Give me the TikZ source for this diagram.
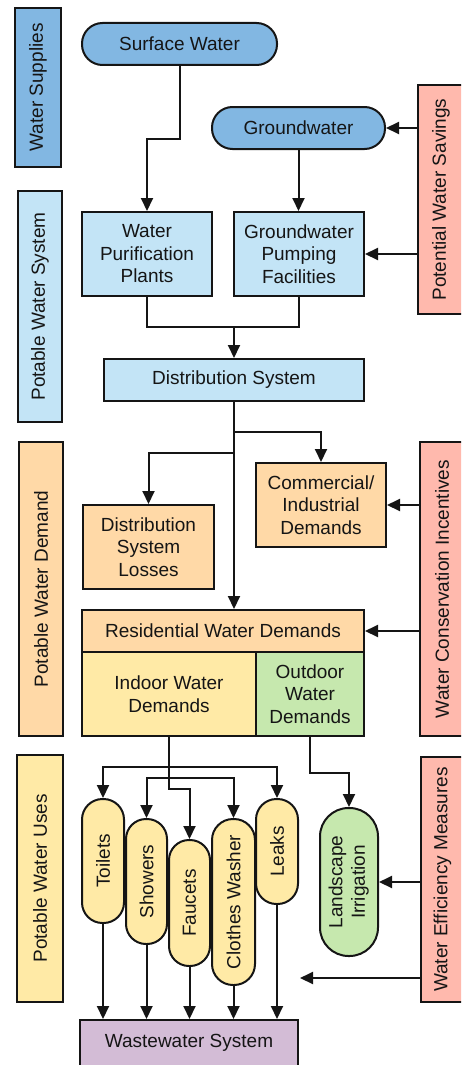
\documentclass[tikz,border=0pt]{standalone}
\usepackage{fontspec}
\setmainfont{Liberation Sans}
\usetikzlibrary{arrows.meta}

\definecolor{supplyblue}{HTML}{82B7E2}
\definecolor{systemblue}{HTML}{C3E4F6}
\definecolor{demandpeach}{HTML}{FFD9A7}
\definecolor{useyellow}{HTML}{FFEAA6}
\definecolor{outdoorgreen}{HTML}{C6E8AE}
\definecolor{policysalmon}{HTML}{FFB9AD}
\definecolor{wastelilac}{HTML}{D3BCD6}
\definecolor{inkline}{HTML}{151515}

\begin{document}
\begin{tikzpicture}[x=1pt,y=-1pt,
  every node/.style={font=\fontsize{19}{22.5}\selectfont, inner sep=0pt, align=center, text=inkline},
  box/.style={draw=inkline, line width=2pt, rectangle},
  pill/.style={box, rounded corners=#1},
  wire/.style={draw=inkline, line width=2pt},
  arr/.style={wire, -{Triangle[length=13pt,width=12pt]}},
]
\useasboundingbox (0,0) rectangle (461,1065);
\clip (0,0) rectangle (461,1065);

% stage labels on the left
\node[box, fill=supplyblue,  minimum width=46pt, minimum height=159pt] (lblsupply) at (38,87.5)  {\rotatebox{90}{Water Supplies}};
\node[box, fill=systemblue,  minimum width=44pt, minimum height=231pt] (lblsystem) at (40,306.5) {\rotatebox{90}{Potable Water System}};
\node[box, fill=demandpeach, minimum width=44pt, minimum height=294pt] (lbldemand) at (41,589)   {\rotatebox{90}{Potable Water Demand}};
\node[box, fill=useyellow,   minimum width=46pt, minimum height=247pt] (lbluses)   at (40,878.5) {\rotatebox{90}{Potable Water Uses}};

% policy levers on the right
\node[box, fill=policysalmon, minimum width=46pt, minimum height=229pt] (savings)    at (441,199.5) {\rotatebox{90}{Potential Water Savings}};
\node[box, fill=policysalmon, minimum width=44pt, minimum height=294pt] (incentives) at (442,589)   {\rotatebox{90}{Water Conservation Incentives}};
\node[box, fill=policysalmon, minimum width=43pt, minimum height=245pt] (efficiency) at (442.5,879.5) {\rotatebox{90}{Water Efficiency Measures}};

% supplies
\node[pill=20.5pt, fill=supplyblue, minimum width=195pt, minimum height=42pt] (surface) at (179.5,44) {Surface Water};
\node[pill=20.5pt, fill=supplyblue, minimum width=173pt, minimum height=42pt] (ground)  at (298.5,128) {Groundwater};

% potable system
\node[box, fill=systemblue, minimum width=130pt, minimum height=84pt] (purify) at (147,254) {Water\\Purification\\Plants};
\node[box, fill=systemblue, minimum width=130pt, minimum height=84pt] (pumps)  at (299,254) {Groundwater\\Pumping\\Facilities};
\node[box, fill=systemblue, minimum width=260pt, minimum height=42pt] (distrib) at (234,380) {Distribution System};

% demands
\node[box, fill=demandpeach, minimum width=130pt, minimum height=84pt] (commercial) at (321,505) {Commercial/\\Industrial\\Demands};
\node[box, fill=demandpeach, minimum width=131pt, minimum height=84pt] (losses) at (148.5,547) {Distribution\\System\\Losses};
\node[box, fill=demandpeach, minimum width=282pt, minimum height=42pt] (resid) at (223,631) {Residential Water Demands};
\node[box, fill=useyellow, minimum width=174pt, minimum height=84pt] (indoor) at (169,694) {Indoor Water\\Demands};
\node[box, fill=outdoorgreen, minimum width=108pt, minimum height=84pt] (outdoor) at (310,694) {Outdoor\\Water\\Demands};

% end uses
\node[pill=20.5pt, fill=useyellow, minimum width=42pt, minimum height=124pt] (toilets) at (103,861)   {\rotatebox{90}{Toilets}};
\node[pill=20pt,   fill=useyellow, minimum width=41pt, minimum height=125pt] (showers) at (146.5,881.5) {\rotatebox{90}{Showers}};
\node[pill=20pt,   fill=useyellow, minimum width=41pt, minimum height=126pt] (faucets) at (189.5,903) {\rotatebox{90}{Faucets}};
\node[pill=21pt,   fill=useyellow, minimum width=43pt, minimum height=166pt] (washer)  at (233.5,902) {\rotatebox{90}{Clothes Washer}};
\node[pill=20.5pt, fill=useyellow, minimum width=42pt, minimum height=105pt] (leaks)   at (277,851.5) {\rotatebox{90}{Leaks}};
\node[pill=28.5pt, fill=outdoorgreen, minimum width=58pt, minimum height=148pt] (irrig) at (349,882)
  {\rotatebox{90}{\begin{tabular}{@{}c@{}}Landscape\\Irrigation\end{tabular}}};

\node[box, fill=wastelilac, minimum width=218pt, minimum height=46pt] (waste) at (189,1043) {Wastewater System};

% junction points of the piping
\coordinate (merge)  at (234,327);
\coordinate (tocom)  at (234,432);
\coordinate (toloss) at (234,453);
\coordinate (outer)  at (169,767);
\coordinate (inner)  at (169,778);
\coordinate (sink)   at (300,978);

% supplies into the system
\draw[arr] (surface.south) -- ++(0,73) -| (purify.north);
\draw[arr] (ground.south) -- (ground.south |- pumps.north);
\draw[arr] (savings.west |- ground.east) -- (ground.east);
\draw[arr] (savings.west |- pumps.east) -- (pumps.east);
\draw[wire] (purify.south) |- (merge) -| (pumps.south);
\draw[arr] (merge) -- (distrib.north);

% distribution to demands
\draw[arr] (distrib.south) -- (distrib.south |- resid.north);
\draw[arr] (tocom) -| (commercial.north);
\draw[arr] (toloss) -| (losses.north);
\draw[arr] (incentives.west |- commercial.east) -- (commercial.east);
\draw[arr] (incentives.west |- resid.east) -- (resid.east);

% demands to end uses
\draw[wire] (indoor.south) -- (inner);
\draw[arr] (inner) -- ++(0,11) -| (faucets.north);
\draw[arr] (outer) -| (toilets.north);
\draw[arr] (outer) -| (leaks.north);
\draw[arr] (inner) -| (showers.north);
\draw[arr] (inner) -| (washer.north);
\draw[arr] (outdoor.south) -- ++(0,36) -| (irrig.north);
\draw[arr] (efficiency.west |- irrig.east) -- (irrig.east);
\draw[arr] (efficiency.west |- sink) -- (sink);

% end uses to wastewater
\foreach \u in {toilets,showers,faucets,washer,leaks}
  \draw[arr] (\u.south) -- (\u.south |- waste.north);
\end{tikzpicture}
\end{document}
